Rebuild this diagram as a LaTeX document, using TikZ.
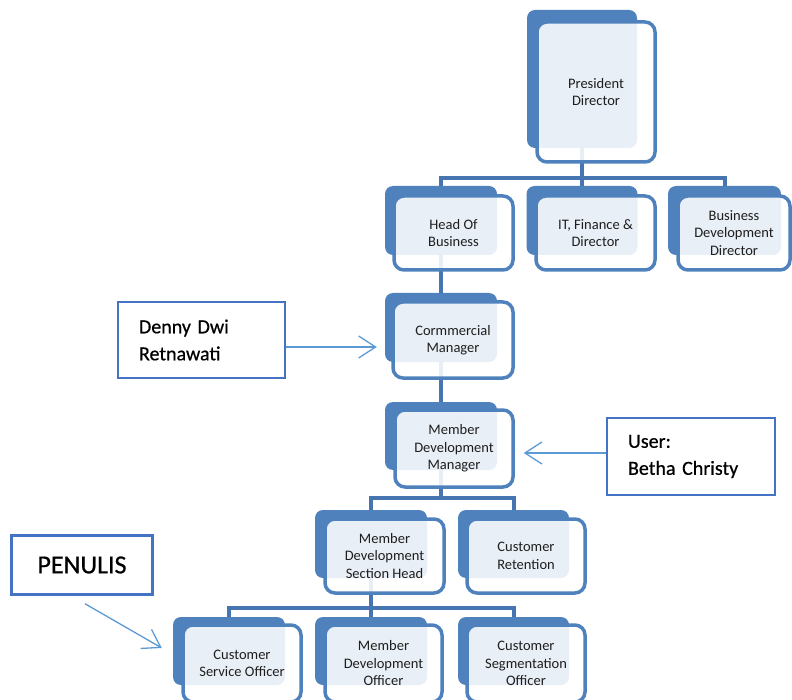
\documentclass[tikz,border=0pt]{standalone}
\usepackage{fontspec}
\setmainfont{Carlito}
\newfontfamily\calloutfont[FakeBold=0.6]{Carlito}
\usetikzlibrary{arrows.meta}
\definecolor{boxblue}{HTML}{4F81BD}
\definecolor{connblue}{HTML}{4675B2}
\definecolor{callblue}{HTML}{4472C4}
\definecolor{arrblue}{HTML}{5B9BD5}
\definecolor{txtgray}{HTML}{1E1E1E}
\begin{document}
\begin{tikzpicture}[x=1pt,y=-1pt,
  backbox/.style={fill=boxblue, draw=none, rounded corners=8pt, inner sep=0pt},
  frontbox/.style={draw=boxblue, line width=3.5pt, fill=white, fill opacity=0.88, text opacity=1,
    rounded corners=10pt, align=center, inner sep=0pt, text=txtgray,
    font=\fontsize{14.5}{17.5}\selectfont},
  conn/.style={draw=connblue, line width=4pt},
  callout/.style={draw=callblue, line width=2.5pt, fill=white, inner sep=0pt, align=left, text=black},
  callarrow/.style={draw=arrblue, line width=1.3pt, -{Straight Barb[length=17pt,width=22pt,line width=1.3pt]}}]
\useasboundingbox (0,0) rectangle (792,700);
\clip (0,0) rectangle (792,700);

% back boxes
\node[backbox, minimum width=110, minimum height=138] (pdB) at (582,79) {};
\node[backbox, minimum width=112, minimum height=69] (hobB) at (441,220.5) {};
\node[backbox, minimum width=111, minimum height=69] (itfB) at (582,220.5) {};
\node[backbox, minimum width=113, minimum height=69] (bddB) at (724.5,220.5) {};
\node[backbox, minimum width=112, minimum height=69] (cmB) at (441,327.5) {};
\node[backbox, minimum width=112, minimum height=68] (mdmB) at (441,436) {};
\node[backbox, minimum width=112, minimum height=68] (mdshB) at (371,544) {};
\node[backbox, minimum width=111, minimum height=68] (crB) at (513.5,544) {};
\node[backbox, minimum width=112, minimum height=68] (csoB) at (229,651) {};
\node[backbox, minimum width=112, minimum height=68] (mdoB) at (371,651) {};
\node[backbox, minimum width=111, minimum height=68] (csegB) at (513.5,651) {};

% connectors
\coordinate (r1) at (0,178);
\coordinate (r2) at (0,498);
\coordinate (r3) at (0,608);
\draw[conn] (pdB.south) -- (itfB.north);
\draw[conn] (hobB.north) |- (r1 -| bddB.north) -- (bddB.north);
\draw[conn] (hobB.south) -- (cmB.north);
\draw[conn] (cmB.south) -- (mdmB.north);
\draw[conn] (mdmB.south) -- (mdmB.south |- r2);
\draw[conn] (mdshB.north) |- (r2 -| crB.north) -- (crB.north);
\draw[conn] (mdshB.south) -- (mdoB.north);
\draw[conn] (csoB.north) |- (r3 -| csegB.north) -- (csegB.north);

% front boxes
\node[frontbox, minimum width=118, minimum height=140] (pd) at (596,92) {President\\Director};
\node[frontbox, minimum width=119, minimum height=74] (hob) at (453.5,233) {Head Of\\Business};
\node[frontbox, minimum width=119, minimum height=74] (itf) at (595.5,233) {IT, Finance \&\\Director};
\node[frontbox, minimum width=112, minimum height=74] (bdd) at (734,233) {Business\\Development\\Director};
\node[frontbox, minimum width=120, minimum height=76] (cm) at (453,340) {Cormmercial\\Manager};
\node[frontbox, minimum width=118, minimum height=77] (mdm) at (454,448.5) {Member\\Development\\Manager};
\node[frontbox, minimum width=119, minimum height=74] (mdsh) at (384.5,556) {Member\\Development\\Section Head};
\node[frontbox, minimum width=118, minimum height=74] (cr) at (526,556) {Customer\\Retention};
\node[frontbox, minimum width=118, minimum height=77] (cso) at (242,663.5) {Customer\\Service Officer};
\node[frontbox, minimum width=117, minimum height=77] (mdo) at (383.5,663.5) {Member\\Development\\Officer};
\node[frontbox, minimum width=118, minimum height=77] (cseg) at (526,663.5) {Customer\\Segmentation\\Officer};

% callouts
\node[callout, minimum width=167, minimum height=76, text width=125,
  font=\calloutfont\fontsize{20}{27}\selectfont] (denny) at (201.5,340) {Denny Dwi\\Retnawati};
\node[callout, minimum width=168, minimum height=77, text width=126,
  font=\calloutfont\fontsize{20}{27}\selectfont] (user) at (691,456.5) {User:\\Betha Christy};
\node[callout, minimum width=141, minimum height=59, align=center,
  font=\calloutfont\fontsize{26}{30}\selectfont] (penulis) at (82,565) {PENULIS};

\coordinate (a1) at ([yshift=-7pt]denny.east);
\draw[callarrow, shorten >=8pt] (a1) -- (a1 -| cmB.west);
\coordinate (a2) at ([yshift=3.5pt]user.west);
\draw[callarrow, shorten >=9pt] (a2) -- (a2 -| mdm.east);
\draw[callarrow] ([xshift=3pt,yshift=-8pt]penulis.south) -- ([xshift=-11pt,yshift=3pt]csoB.west);
\end{tikzpicture}
\end{document}
